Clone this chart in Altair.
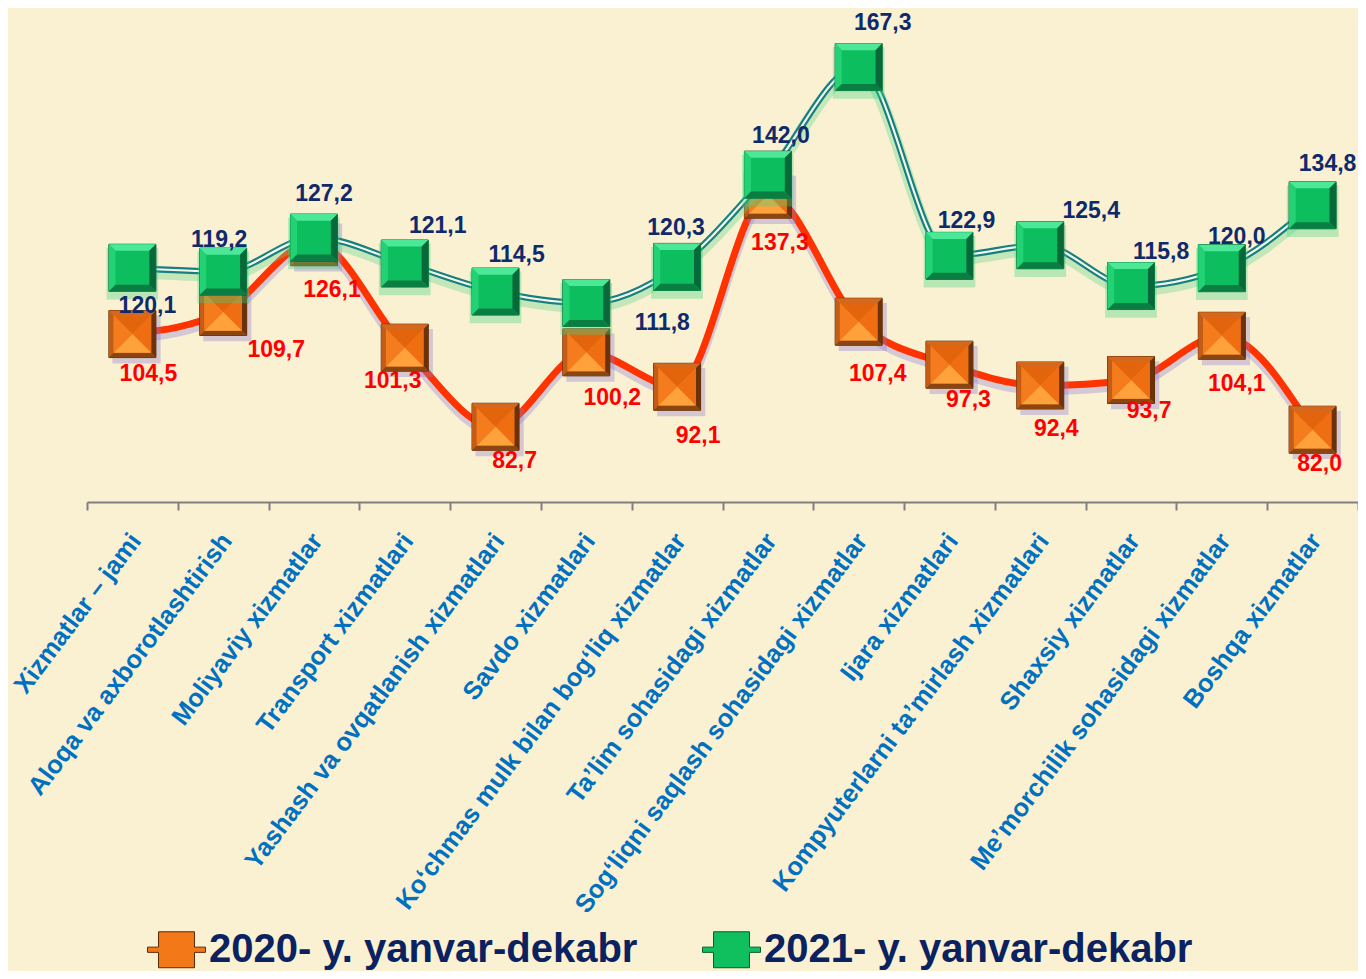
import altair as alt
import pandas as pd

# ---------------- data ----------------
categories = [
    "Xizmatlar – jami",
    "Aloqa va axborotlashtirish",
    "Moliyaviy xizmatlar",
    "Transport xizmatlari",
    "Yashash va ovqatlanish xizmatlari",
    "Savdo xizmatlari",
    "Ko‘chmas mulk bilan bog‘liq xizmatlar",
    "Ta’lim sohasidagi xizmatlar",
    "Sog‘liqni saqlash sohasidagi xizmatlar",
    "Ijara xizmatlari",
    "Kompyuterlarni ta’mirlash xizmatlari",
    "Shaxsiy xizmatlar",
    "Me’morchilik sohasidagi xizmatlar",
    "Boshqa xizmatlar",
]
series_2020 = "2020- y. yanvar-dekabr"
series_2021 = "2021- y. yanvar-dekabr"
values_2020 = [104.5, 109.7, 126.1, 101.3, 82.7, 100.2, 92.1, 137.3, 107.4, 97.3, 92.4, 93.7, 104.1, 82.0]
values_2021 = [120.1, 119.2, 127.2, 121.1, 114.5, 111.8, 120.3, 142.0, 167.3, 122.9, 125.4, 115.8, 120.0, 134.8]

# label placement (pixel offsets from the marker)
label_dx_2020 = [16, 53, 18, -12, 19, 26, 21, 12, 19, 19, 16, 18, 15, 7]
label_dy_2020 = [40, 38, 48, 33, 34, 46, 49, 48, 52, 35, 43, 31, 48, 34]
label_dx_2021 = [15, -4, 10, 33, 21, 76, -1, 13, 24, 17, 51, 30, 15, 15]
label_dy_2021 = [38, -32, -44, -38, -37, 20, -39, -39, -44, -35, -34, -34, -31, -41]

# ---------------- layout ----------------
W, H = 1271, 494
Y_DOMAIN = [65, 181.2]
PX = (Y_DOMAIN[1] - Y_DOMAIN[0]) / H  # data units per pixel
HALF_BAND = W / len(categories) / 2
FONT = "Liberation Sans"

rows = []
for i, c in enumerate(categories):
    rows.append(dict(cat=c, idx=i, series=series_2020, value=values_2020[i],
                     ldx=label_dx_2020[i] + HALF_BAND, ldy=label_dy_2020[i]))
    rows.append(dict(cat=c, idx=i, series=series_2021, value=values_2021[i],
                     ldx=label_dx_2021[i] + HALF_BAND, ldy=label_dy_2021[i]))
df = pd.DataFrame(rows)

X = alt.X(
    "cat:N",
    sort=categories,
    scale=alt.Scale(paddingInner=0, paddingOuter=0),
    axis=alt.Axis(
        title=None,
        labelAngle=307,
        labelFont=FONT,
        labelFontSize=25.5,
        labelFontWeight="bold",
        labelColor="#0070C0",
        labelLimit=800,
        labelOverlap=False,
        labelPadding=26,
        labelOffset=3,
        tickBand="extent",
        tickSize=8,
        tickColor="#808080",
        tickWidth=2,
        domainColor="#808080",
        domainWidth=2,
        grid=False,
    ),
)
YSCALE = alt.Scale(domain=Y_DOMAIN, nice=False, zero=False)
Y = alt.Y("value:Q", scale=YSCALE, axis=None)

base = alt.Chart(df)
b20 = base.transform_filter(alt.datum.series == series_2020)
b21 = base.transform_filter(alt.datum.series == series_2021)

SIZE = 2209
SQ = "M-1,-1L1,-1L1,1L-1,1Z"


def shape_layer(b, path, color, opacity=1.0):
    return b.mark_point(shape=path, size=SIZE, filled=True, fill=color, opacity=opacity,
                        strokeWidth=0).encode(x=X, y=Y)


def shifted(b, px):
    return b.transform_calculate(ys=f"datum.value - {px} * {PX}")


# lines
line20_shadow = shifted(b20, 5).mark_line(interpolate="monotone", color="#9C8CD8", strokeWidth=9,
                                          opacity=0.4).encode(
    x=X, y=alt.Y("ys:Q", scale=YSCALE, axis=None), order="idx:Q")
line20 = b20.mark_line(interpolate="monotone", color="#FF3300", strokeWidth=7).encode(x=X, y=Y, order="idx:Q")

line21_glow = shifted(b21, 4).mark_line(interpolate="monotone", color="#5FD890", strokeWidth=12,
                                        opacity=0.35).encode(
    x=X, y=alt.Y("ys:Q", scale=YSCALE, axis=None), order="idx:Q")
line21 = b21.mark_line(interpolate="monotone", color="#17807F", strokeWidth=6.5).encode(x=X, y=Y, order="idx:Q")
line21_in = b21.mark_line(interpolate="monotone", color="#F4F7EC", strokeWidth=2.2).encode(x=X, y=Y, order="idx:Q")

# base squares carrying the legend
LEG_PATH = ("M-1,-0.09L-0.62,-0.09L-0.62,-0.62L0.62,-0.62L0.62,-0.09L1,-0.09L1,0.09L0.62,0.09"
            "L0.62,0.62L-0.62,0.62L-0.62,0.09L-1,0.09Z")
base_sq = base.mark_point(shape=SQ, size=SIZE, filled=True, opacity=1, strokeWidth=1).encode(
    x=X, y=Y,
    fill=alt.Fill(
        "series:N",
        scale=alt.Scale(domain=[series_2020, series_2021], range=["#F27818", "#10BF5E"]),
        legend=alt.Legend(
            orient="none", legendX=60, legendY=912, direction="horizontal", title=None,
            symbolType=LEG_PATH, symbolSize=3364, symbolStrokeWidth=1, symbolStrokeColor="#5A3A1A",
            symbolOpacity=1, labelFont=FONT, labelFontSize=40, labelFontWeight="bold",
            labelColor="#0A2260", labelOffset=3, columnPadding=62, labelLimit=900, padding=0,
        ),
    ),
    stroke=alt.Stroke(
        "series:N",
        scale=alt.Scale(domain=[series_2020, series_2021], range=["#5A2A08", "#0A5A2E"]),
        legend=None,
    ),
)

# orange marker details
o_shadow = shape_layer(b20, "M-0.85,-0.8L1.2,-0.8L1.2,1.25L-0.85,1.25Z", "#8C7CD0", 0.35)
o_top = shape_layer(b20, "M-1,-1L1,-1L0.8,-0.8L-0.8,-0.8Z", "#D4691E")
o_left = shape_layer(b20, "M-1,-1L-0.8,-0.8L-0.8,0.8L-1,1Z", "#C25C16")
o_right = shape_layer(b20, "M1,-1L1,1L0.8,0.8L0.8,-0.8Z", "#6B3208")
o_bot = shape_layer(b20, "M-1,1L1,1L0.8,0.8L-0.8,0.8Z", "#8A4510")
o_ct = shape_layer(b20, "M-0.8,-0.8L0.8,-0.8L0,0Z", "#E2640C")
o_cr = shape_layer(b20, "M0.8,-0.8L0.8,0.8L0,0Z", "#F06E12")
o_cb = shape_layer(b20, "M-0.8,0.8L0.8,0.8L0,0Z", "#FFA23C")
o_cl = shape_layer(b20, "M-0.8,-0.8L-0.8,0.8L0,0Z", "#F47C1C")

# green marker details
g_glow = shape_layer(b21, "M-1.1,-0.85L1.1,-0.85L1.1,1.35L-1.1,1.35Z", "#3CD880", 0.35)
g_face = shape_layer(b21, SQ, "#0DBE5E")
g_top = shape_layer(b21, "M-1,-1L1,-1L0.72,-0.72L-0.72,-0.72Z", "#4CE898")
g_left = shape_layer(b21, "M-1,-1L-0.72,-0.72L-0.72,0.72L-1,1Z", "#22D274")
g_right = shape_layer(b21, "M1,-1L1,1L0.72,0.72L0.72,-0.72Z", "#07693A")
g_bot = shape_layer(b21, "M-1,1L1,1L0.72,0.72L-0.72,0.72Z", "#0A7E42")


# value labels
def label_layer(b, color):
    return b.transform_calculate(
        lab="replace(format(datum.value, '.1f'), '.', ',')",
        ly=f"datum.value - datum.ldy * {PX}",
    ).mark_text(font=FONT, fontSize=23, fontWeight="bold", color=color, align="center",
                baseline="middle").encode(
        x=X, y=alt.Y("ly:Q", scale=YSCALE, axis=None), text="lab:N",
        xOffset=alt.XOffset("ldx:Q", scale=None))


labels20 = label_layer(b20, "#FF0000")
labels21 = label_layer(b21, "#0F2A6B")

chart = alt.layer(
    line20_shadow, line20,
    o_shadow, base_sq.transform_filter(alt.datum.series == series_2020),
    o_top, o_left, o_right, o_bot, o_ct, o_cr, o_cb, o_cl,
    line21_glow, line21, line21_in,
    g_glow, base_sq.transform_filter(alt.datum.series == series_2021),
    g_face, g_top, g_left, g_right, g_bot,
    labels20, labels21,
).properties(
    width=W, height=H,
    autosize=alt.AutoSizeParams(type="none"),
    padding={"left": 79, "right": 0, "top": 0, "bottom": 469},
).configure(background="#FAF0D2").configure_view(stroke=None)

chart.save("out.html", embed_options={"renderer": "svg", "actions": False})
